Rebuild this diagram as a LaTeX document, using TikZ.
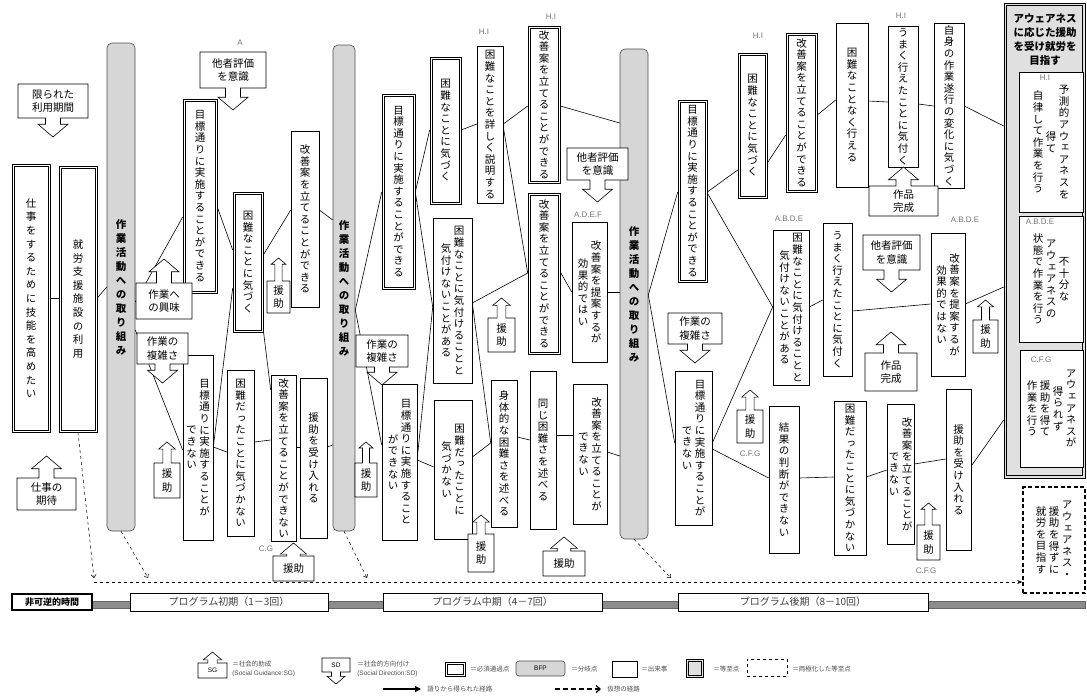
\documentclass[tikz,border=0pt]{standalone}
\usepackage{fontspec}
\setmainfont{Noto Sans CJK JP}
\newfontfamily\vjp[RawFeature=+vert]{Noto Sans CJK JP}
\newfontfamily\latn{Liberation Sans}
\usetikzlibrary{arrows.meta}

\makeatletter
\newdimen\vstep \vstep=11.6pt
\newcommand\vcol[1]{$\vcenter{\baselineskip=\vstep\lineskip=0pt\lineskiplimit=-50pt\vc@do#1\@nil}$}
\def\vc@do#1{\ifx#1\@nil\else\hbox to 13pt{\hss#1\hss}\expandafter\vc@do\fi}
\makeatother

\newcommand\bx[7][ev]{\node[#1, minimum width={#5-#3}, minimum height={#6-#4}] (#2) at ({(#3+#5)/2},{(#4+#6)/2}) {#7};}

\newcommand\sgup[7]{%
  \pgfmathsetmacro\cx{(#2+#4)/2}%
  \pgfmathsetmacro\hw{min(15,0.32*(#4-#2))}%
  \pgfmathsetmacro\sw{\hw/2}%
  \pgfmathsetmacro\hh{0.85*\hw}%
  \draw[fill=white] (#2,#5) -- (#2,#3) -- (\cx-\sw,#3) -- (\cx-\sw,#6+\hh) -- (\cx-\hw,#6+\hh) -- (\cx,#6) -- (\cx+\hw,#6+\hh) -- (\cx+\sw,#6+\hh) -- (\cx+\sw,#3) -- (#4,#3) -- (#4,#5) -- cycle;
  \node[sgt] (#1) at (\cx,{(#3+#5)/2}) {#7};}

\newcommand\sddown[7]{%
  \pgfmathsetmacro\cx{(#2+#4)/2}%
  \pgfmathsetmacro\hw{min(15,0.32*(#4-#2))}%
  \pgfmathsetmacro\sw{\hw/2}%
  \pgfmathsetmacro\hh{0.85*\hw}%
  \draw[fill=white] (#2,#3) -- (#4,#3) -- (#4,#5) -- (\cx+\sw,#5) -- (\cx+\sw,#6-\hh) -- (\cx+\hw,#6-\hh) -- (\cx,#6) -- (\cx-\hw,#6-\hh) -- (\cx-\sw,#6-\hh) -- (\cx-\sw,#5) -- (#2,#5) -- cycle;
  \node[sgt] (#1) at (\cx,{(#3+#5)/2}) {#7};}

\begin{document}
\begin{tikzpicture}[x=1pt, y=-1pt, line width=0.6pt,
  ev/.style={draw, fill=white, inner sep=0pt, font=\vjp\fontsize{10.5}{12}\selectfont},
  opp/.style={ev},
  bfp/.style={draw=black!70, fill=black!16, rounded corners=5pt, inner sep=0pt, font=\vjp\bfseries\fontsize{10.5}{12}\selectfont},
  efp/.style={draw, fill=black!12, inner sep=0pt},
  pefp/.style={draw, line width=1.6pt, dash pattern=on 4pt off 2.5pt, fill=white, inner sep=0pt, font=\vjp\fontsize{10.5}{12}\selectfont},
  prog/.style={draw, fill=white, inner sep=0pt, text=black!75, font=\fontsize{10}{11}\selectfont},
  sgt/.style={align=center, inner sep=0pt, font=\fontsize{10.5}{13.5}\selectfont},
  lab/.style={text=black!55, inner sep=0pt, font=\latn\fontsize{8}{9}\selectfont},
  vpath/.style={dashed, line width=0.5pt, -{Straight Barb[length=3pt,width=5pt]}},
  legt/.style={anchor=west, inner sep=0pt, align=left, text=black!70, font=\fontsize{6.5}{9}\selectfont}]
\useasboundingbox (0,0) rectangle (1087,699);

\bx[opp]{e1}{12}{164}{50}{432}{\vstep=13.6pt\relax\vcol{仕事をするために技能を高めたい}}
\bx[opp]{e2}{59}{166}{97}{432}{\vstep=13.6pt\relax\vcol{就労支援施設の利用}}
\bx[bfp]{bfp1}{107}{43}{135}{531}{\vstep=14pt\relax\vcol{作業活動への取り組み}}
\bx[bfp]{bfp2}{333}{45}{355}{531}{\vstep=14pt\relax\vcol{作業活動への取り組み}}
\bx[bfp]{bfp3}{620}{49}{648}{539}{\vstep=14pt\relax\vcol{作業活動への取り組み}}

\bx[opp]{e3}{183}{99}{217}{293}{\vcol{目標通りに実施することができる}}
\bx{e4}{183}{355}{213}{540}{\vcol{できない}\vcol{目標通りに実施することが}}
\bx[opp]{e5}{233}{192}{263}{332}{\vcol{困難なことに気づく}}
\bx{e6}{291}{131}{319}{307}{\vcol{改善案を立てることができる}}
\bx{e7}{227}{370}{254}{536}{\vcol{困難だったことに気づかない}}
\bx{e8}{271}{375}{296}{541}{\vcol{改善案を立てることができない}}
\bx{e9}{300}{378}{327}{538}{\vcol{援助を受け入れる}}

\bx[opp]{e20}{382}{94}{415}{289}{\vcol{目標通りに実施することができる}}
\bx{e10}{382}{384}{417}{540}{\vcol{ができない}\vcol{目標通りに実施すること}}
\bx[opp]{e21}{430}{57}{461}{204}{\vcol{困難なことに気づく}}
\bx{e22}{477}{46}{503}{203}{\vcol{困難なことを詳しく説明する}}
\bx{e25}{433}{218}{472}{383}{\vcol{気付けないことがある}\vcol{困難なことに気付けることと}}
\bx{e11}{434}{400}{472}{539}{\vcol{気づかない}\vcol{困難だったことに}}
\bx[opp]{e23}{528}{26}{560}{183}{\vcol{改善案を立てることができる}}
\bx[opp]{e24}{528}{193}{560}{354}{\vcol{改善案を立てることができる}}
\bx{e12}{491}{380}{517}{527}{\vcol{身体的な困難さを述べる}}
\bx{e13}{530}{371}{556}{529}{\vcol{同じ困難さを述べる}}
\bx{e26}{572}{222}{607}{362}{\vcol{効果的ではい}\vcol{改善案を提案するが}}
\bx{e14}{573}{384}{607}{524}{\vcol{できない}\vcol{改善案を立てることが}}

\bx[opp]{e27}{678}{100}{707}{282}{\vcol{目標通りに実施することができる}}
\bx{e15}{675}{371}{712}{525}{\vcol{できない}\vcol{目標通りに実施することが}}
\bx[opp]{e28}{738}{53}{767}{198}{\vcol{困難なことに気づく}}
\bx{e29}{773}{230}{809}{385}{\vcol{気付けないことがある}\vcol{困難なことに気付けることと}}
\bx[opp]{e30}{786}{33}{817}{192}{\vcol{改善案を立てることができる}}
\bx{e31}{836}{23}{868}{187}{\vcol{困難なことなく行える}}
\bx{e32}{888}{26}{918}{167}{\vcol{うまく行えたことに気付く}}
\bx{e33}{934}{23}{964}{188}{\vcol{自身の作業遂行の変化に気づく}}
\bx{e34}{823}{223}{852}{376}{\vcol{うまく行えたことに気付く}}
\bx{e35}{931}{233}{965}{376}{\vcol{効果的ではない}\vcol{改善案を提案するが}}
\bx{e16}{769}{406}{799}{553}{\vcol{結果の判断ができない}}
\bx{e17}{834}{401}{866}{555}{\vcol{困難だったことに気づかない}}
\bx{e18}{887}{404}{914}{544}{\vcol{できない}\vcol{改善案を立てることが}}
\bx{e19}{946}{389}{971}{550}{\vcol{援助を受け入れる}}

\bx[efp]{efp}{1004}{3}{1085}{478}{}
\draw ([shift={(2.6,2.6)}]efp.north west) rectangle ([shift={(-2.6,-2.6)}]efp.south east);
\node[font=\bfseries\fontsize{10.5}{14}\selectfont, align=center, inner sep=0pt] (eftitle) at (1045,40) {アウェアネス\\に応じた援助\\を受け就労を\\目指す};
\bx{f1}{1019}{72}{1083}{212}{\vcol{自律して作業を行う}\vcol{得て}\vcol{予測的アウェアネスを}}
\bx{f2}{1019}{216}{1083}{342}{\vcol{状態で作業を行う}\vcol{アウェアネスの}\vcol{不十分な}}
\bx{f3}{1020}{350}{1083}{467}{\vcol{作業を行う}\vcol{援助を得て}\vcol{得られず}\vcol{アウェアネスが}}
\bx[pefp]{f4}{1023}{487}{1085}{593}{\vcol{就労を目指す}\vcol{援助を得ずに}\vcol{アウェアネス・}}

\foreach \nn in {e1,e2,e3,e5,e20,e21,e23,e24,e27,e28,e30}
  \draw ([shift={(2.4,2.4)}]\nn.north west) rectangle ([shift={(-2.4,-2.4)}]\nn.south east);

\foreach \na/\ya/\nb/\yb in {e1/298/e2/298, e2/298/bfp1/287, bfp1/302/e3/217, bfp1/330/e4/450,
  e3/207/e5/250, e4/447/e5/288, e4/447/e7/452, e5/255/e6/210, e5/330/e8/390, e7/442/e8/440,
  e8/447/e9/447, e6/210/bfp2/220, e9/447/bfp2/445, bfp2/310/e20/192, bfp2/310/e10/445,
  e20/192/e21/130, e20/192/e25/307, e10/458/e25/307, e10/460/e11/467, e21/130/e22/124,
  e22/124/e23/106, e22/127/e24/273, e25/303/e24/273, e25/303/e12/443, e11/457/e12/443,
  e12/437/e13/440, e13/435/e14/435, e14/452/bfp3/456, e24/272/e26/292, e26/292/bfp3/292,
  e23/106/bfp3/123, bfp3/295/e27/192, bfp3/295/e15/443, e27/192/e28/170, e27/193/e29/307,
  e15/443/e29/307, e15/449/e16/478, e16/478/e17/477, e17/477/e18/470, e18/464/e19/459,
  e19/466/efp/420, e28/163/e30/135, e30/115/e31/100, e31/101/e32/102, e32/104/e33/106,
  e33/106/efp/126, e29/307/e34/300, e34/311/e35/304, e35/304/efp/287}
  \draw (\na.east |- 0,\ya) -- (\nb.west |- 0,\yb);

\coordinate (d1) at (94,578);
\coordinate (d2) at (148,578);
\coordinate (d3) at (367,578);
\coordinate (d4) at (671,578);
\coordinate (dh) at (94,582);
\draw[vpath] (e2.south) -- (d1);
\draw[vpath] (bfp1.south) -- (d2);
\draw[vpath] (bfp2.south) -- (d3);
\draw[vpath] (bfp3.south) -- (d4);
\draw[dashed, -{Stealth[length=5pt,width=4pt]}] (dh) -- (f4.west |- dh);

\sddown{sd1}{18}{84}{88}{118}{137}{限られた\\利用期間}
\sgup{sg1}{17}{478}{76}{510}{456}{仕事の\\期待}
\sddown{sdA}{200}{52}{266}{88}{110}{他者評価\\を意識}
\sgup{sg2}{136}{283}{192}{319}{259}{作業へ\\の興味}
\sddown{sd2}{137}{333}{188}{364}{383}{作業の\\複雑さ}
\sgup{sg3}{154}{463}{180}{498}{442}{援\\助}
\sgup{sg4}{267}{281}{290}{313}{258}{援\\助}
\sgup{sg5}{273}{556}{314}{581}{543}{援助}
\sddown{sd3}{356}{335}{408}{367}{385}{作業の\\複雑さ}
\sgup{sg6}{355}{463}{377}{497}{442}{援\\助}
\sgup{sg7}{488}{318}{515}{352}{298}{援\\助}
\sgup{sg8}{468}{534}{494}{572}{515}{援\\助}
\sgup{sg9}{543}{551}{585}{576}{537}{援助}
\sddown{sd4}{567}{148}{628}{180}{202}{他者評価\\を意識}
\sddown{sd5}{668}{313}{722}{344}{363}{作業の\\複雑さ}
\sgup{sg10}{737}{410}{763}{443}{390}{援\\助}
\sgup{sg11}{869}{186}{938}{216}{167}{作品\\完成}
\sddown{sd6}{863}{235}{920}{270}{292}{他者評価\\を意識}
\sgup{sg12}{865}{353}{917}{391}{332}{作品\\完成}
\sgup{sg13}{973}{320}{998}{353}{300}{援\\助}
\sgup{sg14}{917}{525}{940}{560}{503}{援\\助}

\node[lab] (lA) at (240,43) {A};
\node[lab] (l22) at (484,32) {H.I};
\node[lab] (l23) at (551,17) {H.I};
\node[lab] (l26) at (588,215) {A.D.E.F};
\node[lab] (l28) at (758,36) {H.I};
\node[lab] (l29) at (789,219) {A.B.D.E};
\node[lab] (l32) at (901,16) {H.I};
\node[lab] (l35) at (965,220) {A.B.D.E};
\node[lab] (lf1) at (1045,78) {H.I};
\node[lab] (lf2) at (1040,222) {A.B.D.E};
\node[lab] (lf3) at (1041,360) {C.F.G};
\node[lab] (lsg5) at (266,549) {C.G};
\node[lab] (lsg10) at (750,454) {C.F.G};
\node[lab] (lsg14) at (926,571) {C.F.G};

\bx[draw=black!60, fill=black!45, inner sep=0pt]{tbar}{92}{601}{1085}{608}{}
\bx[draw, line width=1.5pt, fill=white, inner sep=0pt, font=\bfseries\fontsize{9}{10}\selectfont]{t0}{12}{594}{92}{610}{非可逆的時間}
\bx[prog]{p1}{130}{593}{328}{611}{プログラム初期（1－3回）}
\bx[prog]{p2}{383}{593}{602}{611}{プログラム中期（4－7回）}
\bx[prog]{p3}{678}{593}{928}{611}{プログラム後期（8－10回）}

\sgup{lsg}{198}{663}{227}{678}{652}{\latn\fontsize{6.5}{7}\selectfont SG}
\node[legt] (lsgt) at (232,669) {＝社会的助成\\{\latn (Social Guidance:SG)}};
\sddown{lsd}{322}{658}{350}{672}{684}{\latn\fontsize{6.5}{7}\selectfont SD}
\node[legt] (lsdt) at (357,669) {＝社会的方向付け\\{\latn (Social Direction:SD)}};
\bx[opp]{lopp}{445}{662}{465}{676}{}
\draw ([shift={(2.2,2.2)}]lopp.north west) rectangle ([shift={(-2.2,-2.2)}]lopp.south east);
\node[legt] (loppt) at (470,669) {＝必須通過点};
\bx[bfp, rounded corners=3pt]{lbfp}{516}{661}{565}{676}{\mdseries\latn\fontsize{6.5}{7}\selectfont BFP}
\node[legt] (lbfpt) at (571,669) {＝分岐点};
\bx{lev}{612}{661}{637}{677}{}
\node[legt] (levt) at (641,669) {＝出来事};
\bx[efp]{lefp}{686}{659}{703}{677}{}
\draw ([shift={(2.2,2.2)}]lefp.north west) rectangle ([shift={(-2.2,-2.2)}]lefp.south east);
\node[legt] (lefpt) at (713,669) {＝等至点};
\bx[draw, dashed, inner sep=0pt]{lpefp}{747}{659}{787}{676}{}
\node[legt] (lpefpt) at (792,669) {＝両極化した等至点};
\coordinate (la1) at (383,689);
\coordinate (la2) at (421,689);
\draw[line width=1.2pt, -{Triangle[length=6pt,width=6pt]}] (la1) -- (la2);
\node[legt] (lat) at (427,689) {語りから得られた経路};
\coordinate (lb1) at (555,689);
\coordinate (lb2) at (601,689);
\draw[line width=1.3pt, dash pattern=on 5pt off 3pt, -{Straight Barb[length=4pt,width=7pt]}] (lb1) -- (lb2);
\node[legt] (lbt) at (607,689) {仮想の経路};
\end{tikzpicture}
\end{document}
